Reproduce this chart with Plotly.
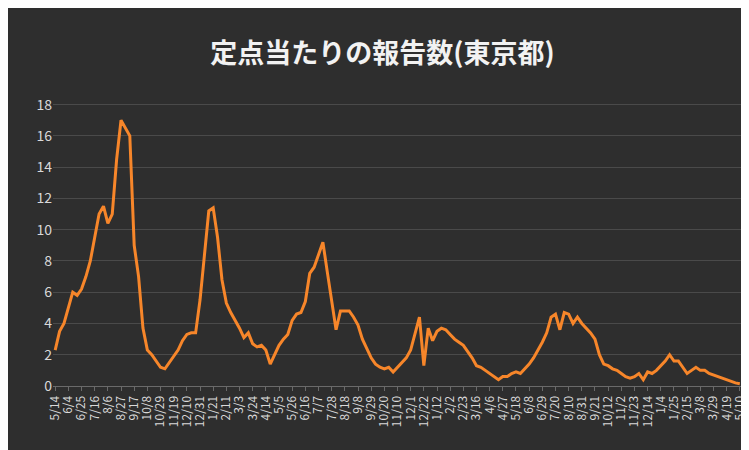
import plotly.graph_objects as go

tick_labels = ["5/14","6/4","6/25","7/16","8/6","8/27","9/17","10/8","10/29","11/19","12/10","12/31",
"1/21","2/11","3/3","3/24","4/14","5/5","5/26","6/16","7/7","7/28","8/18","9/8","9/29","10/20","11/10",
"12/1","12/22","1/12","2/2","2/23","3/16","4/6","4/27","5/18","6/8","6/29","7/20","8/10","8/31","9/21",
"10/12","11/2","11/23","12/14","1/4","1/25","2/15","3/8","3/29","4/19","5/10"]

values = [2.3,3.5,4,5,6,5.8,6.2,7,8,9.5,11,11.5,10.4,11,14.5,17,16.5,16,
9,7,3.7,2.3,2,1.6,1.2,1.1,1.5,1.9,2.3,2.9,3.3,3.4,3.4,
5.5,8.5,11.2,11.4,
9.5,6.8,5.3,4.7,4.2,3.7,3.1,3.4,2.7,2.5,2.6,2.3,1.4,
2,2.6,3,3.3,4.2,4.6,4.7,5.4,7.2,7.6,8.4,9.2,
7.3,5.5,3.6,4.8,4.8,4.8,4.4,3.9,3,2.4,1.8,1.4,
1.2,1.1,1.2,0.9,1.2,1.5,1.8,2.3,3.3,4.4,1.3,
3.7,2.9,3.5,3.7,3.6,3.3,3,2.8,2.6,2.2,1.8,1.3,1.2,1,0.8,0.6,0.4,
0.6,0.6,0.8,0.9,0.8,1.1,1.4,1.8,2.3,2.8,3.4,4.4,
4.6,3.6,4.7,4.6,4.0,4.4,4.0,3.7,3.4,3.0,2.0,1.4,
1.3,1.1,1.0,0.8,0.6,0.5,0.6,0.8,0.4,0.9,0.8,1.0,1.3,1.6,2.0,
1.6,1.6,1.2,0.8,1.0,1.2,1.0,1.0,0.8,0.7,0.6,0.5,0.4,0.3,0.2,0.15]

x = list(range(len(values)))
tickvals = [i*3 for i in range(len(tick_labels))]

fig = go.Figure(go.Scatter(x=x, y=values, mode="lines",
    line=dict(color="#f7862a", width=3)))

fig.update_layout(
    width=749, height=450,
    paper_bgcolor="#2e2e2e", plot_bgcolor="rgba(0,0,0,0)",
    margin=dict(l=45, r=10, t=81, b=72),
    title=dict(text="<b>定点当たりの報告数(東京都)</b>", x=0.5, y=0.92, xanchor="center",
               font=dict(size=27, color="#f2f2f2", family="Noto Sans CJK JP")),
    font=dict(family="Noto Sans CJK JP", color="#bfbfbf"),
    showlegend=False,
)
fig.update_xaxes(tickvals=tickvals, ticktext=tick_labels, tickangle=-90,
    tickfont=dict(size=12, color="#d9d9d9"), range=[-0.5, len(values)-0.5],
    showgrid=False, showline=True, linecolor="#6a6a6a", ticks="outside",
    tickcolor="#6a6a6a", ticklen=4, zeroline=False)
fig.update_yaxes(range=[0, 19], tickvals=list(range(0, 19, 2)),
    tickfont=dict(size=14, color="#d9d9d9"), gridcolor="#4a4a4a",
    zeroline=False, showline=False)

fig.write_html("out.html")
